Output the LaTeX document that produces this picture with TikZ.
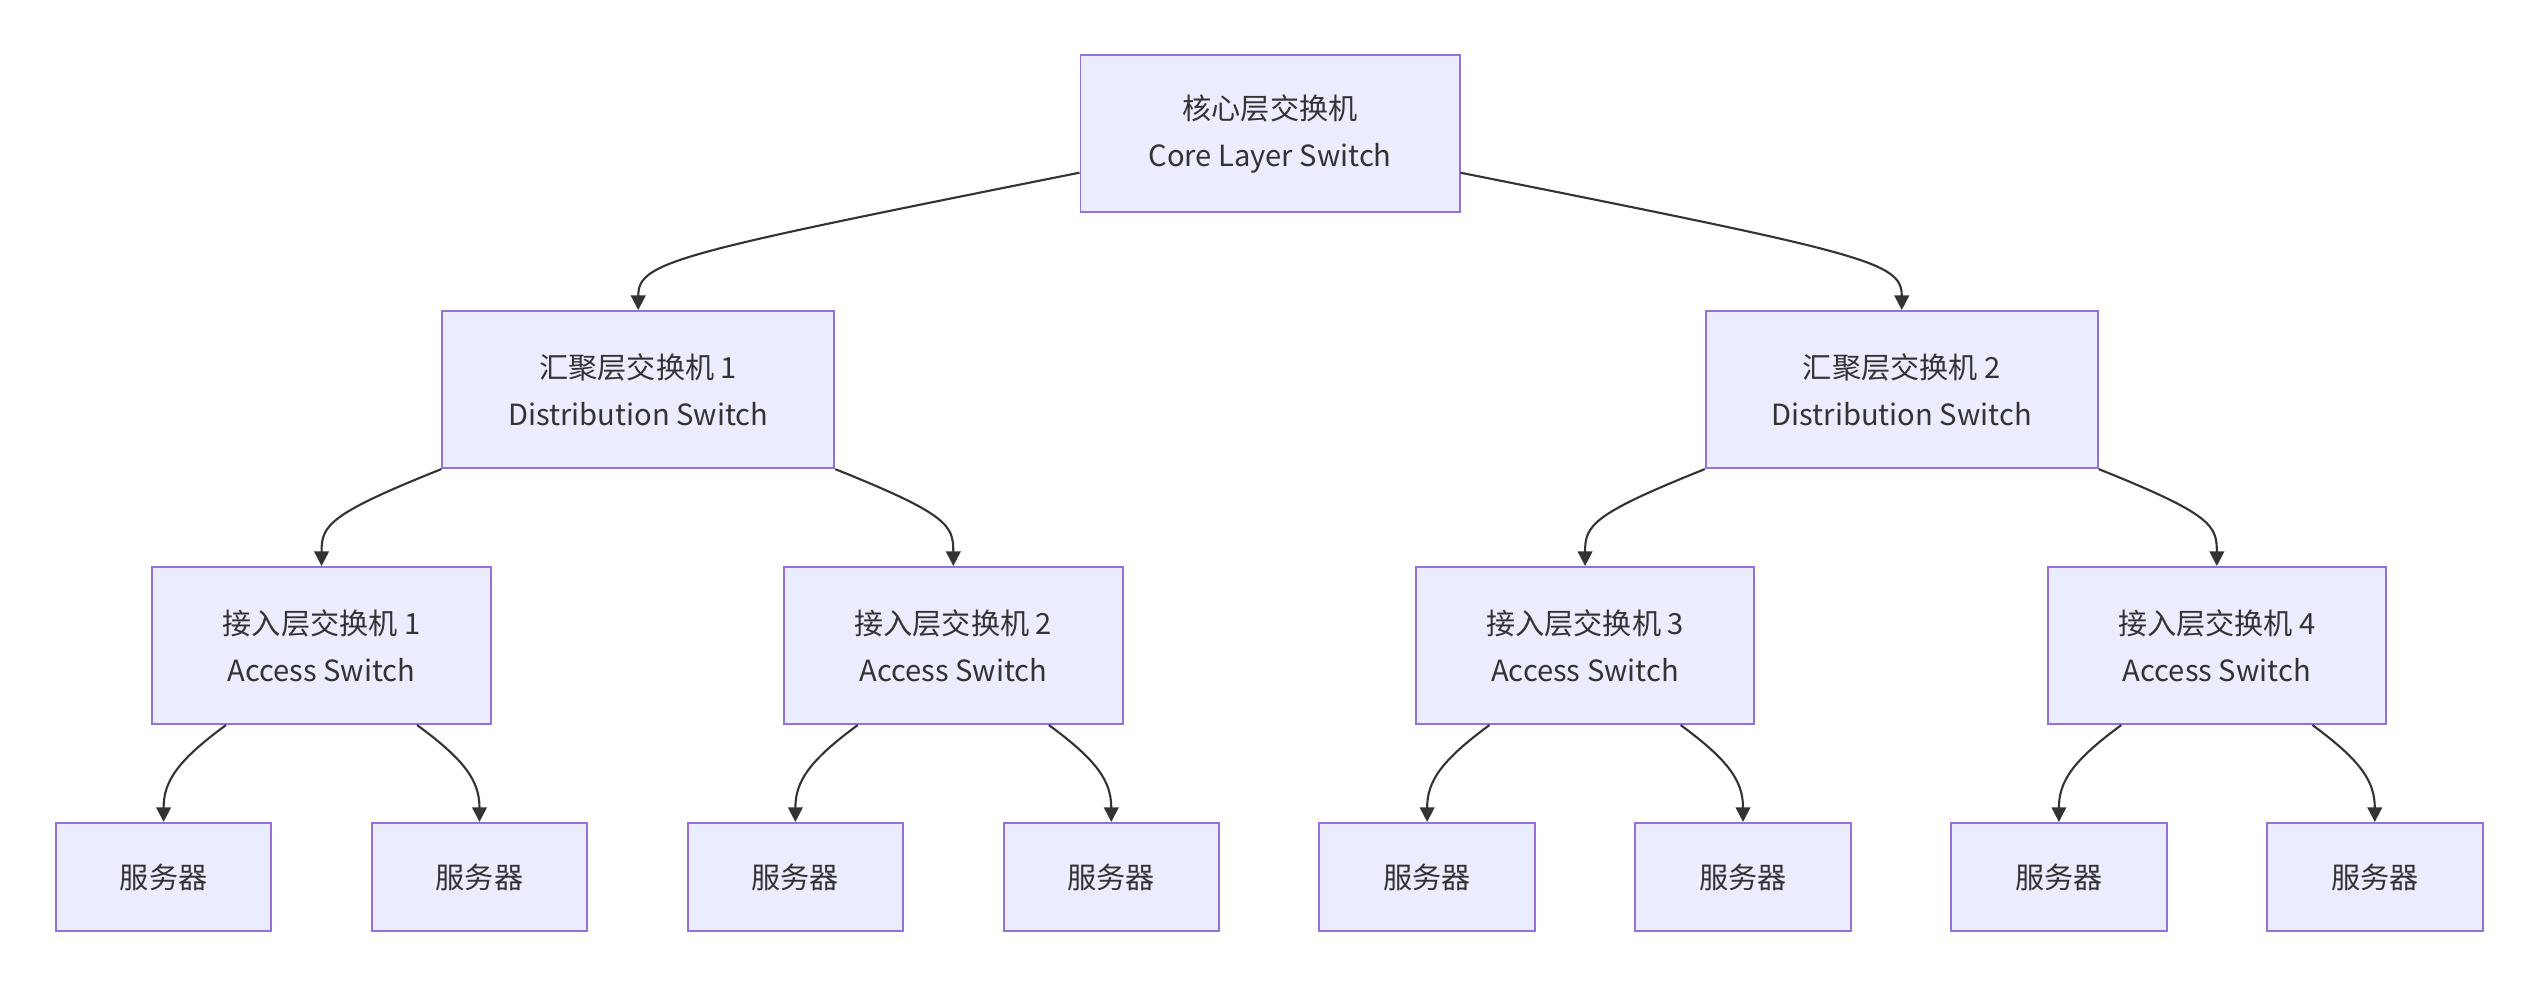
\documentclass[tikz,border=0pt]{standalone}
\usepackage{fontspec}
\setmainfont{Noto Sans CJK SC}
\usetikzlibrary{calc,arrows.meta}
\definecolor{nf}{HTML}{ECECFF}
\definecolor{nb}{HTML}{9370DB}
\definecolor{ln}{HTML}{333333}
\begin{document}
\begin{tikzpicture}[x=1pt,y=-1pt,
  box/.style={draw=nb,fill=nf,line width=1.2pt,text=ln,align=center,inner sep=0pt,font=\fontsize{18}{29}\selectfont},
  big/.style={box,minimum height=97pt},
  srv/.style={box,minimum width=133pt,minimum height=67pt},
  acc/.style={big,minimum width=209pt},
  dis/.style={big,minimum width=242pt},
  e/.style={draw=ln,line width=1.3pt,-{Triangle[length=9pt,width=9pt]}}]
\useasboundingbox (0,0) rectangle (1568,610);
\node[big,minimum width=234pt] (core) at (784,82.5) {核心层交换机\\Core Layer Switch};
\node[dis] (d1) at (394,240.5) {汇聚层交换机 1\\Distribution Switch};
\node[dis] (d2) at (1174,240.5) {汇聚层交换机 2\\Distribution Switch};
\foreach \i/\x in {1/198.5,2/588.5,3/978.5,4/1368.5}
  \node[acc] (a\i) at (\x,398.5) {接入层交换机 \i\\Access Switch};
\foreach \i/\x in {1/101,2/296,3/491,4/686,5/881,6/1076,7/1271,8/1466}
  \node[srv] (s\i) at (\x,541.5) {服务器};
% core -> dist
\path[e] ($(core.south west)+(0,-25)$) .. controls +(-250,50) and +(0,-30) .. (d1.north);
\path[e] ($(core.south east)+(0,-25)$) .. controls +(250,50) and +(0,-30) .. (d2.north);
% dist -> access
\foreach \d/\l/\r in {d1/a1/a2,d2/a3/a4}{
  \path[e] (\d.south west) .. controls +(-70,28) and +(0,-25) .. (\l.north);
  \path[e] (\d.south east) .. controls +(70,28) and +(0,-25) .. (\r.north);
}
% access -> servers
\foreach \a/\l/\r in {a1/s1/s2,a2/s3/s4,a3/s5/s6,a4/s7/s8}{
  \path[e] ($(\a.south)+(-59,0)$) .. controls +(-30,22) and +(0,-25) .. (\l.north);
  \path[e] ($(\a.south)+(59,0)$) .. controls +(30,22) and +(0,-25) .. (\r.north);
}
\end{tikzpicture}
\end{document}
